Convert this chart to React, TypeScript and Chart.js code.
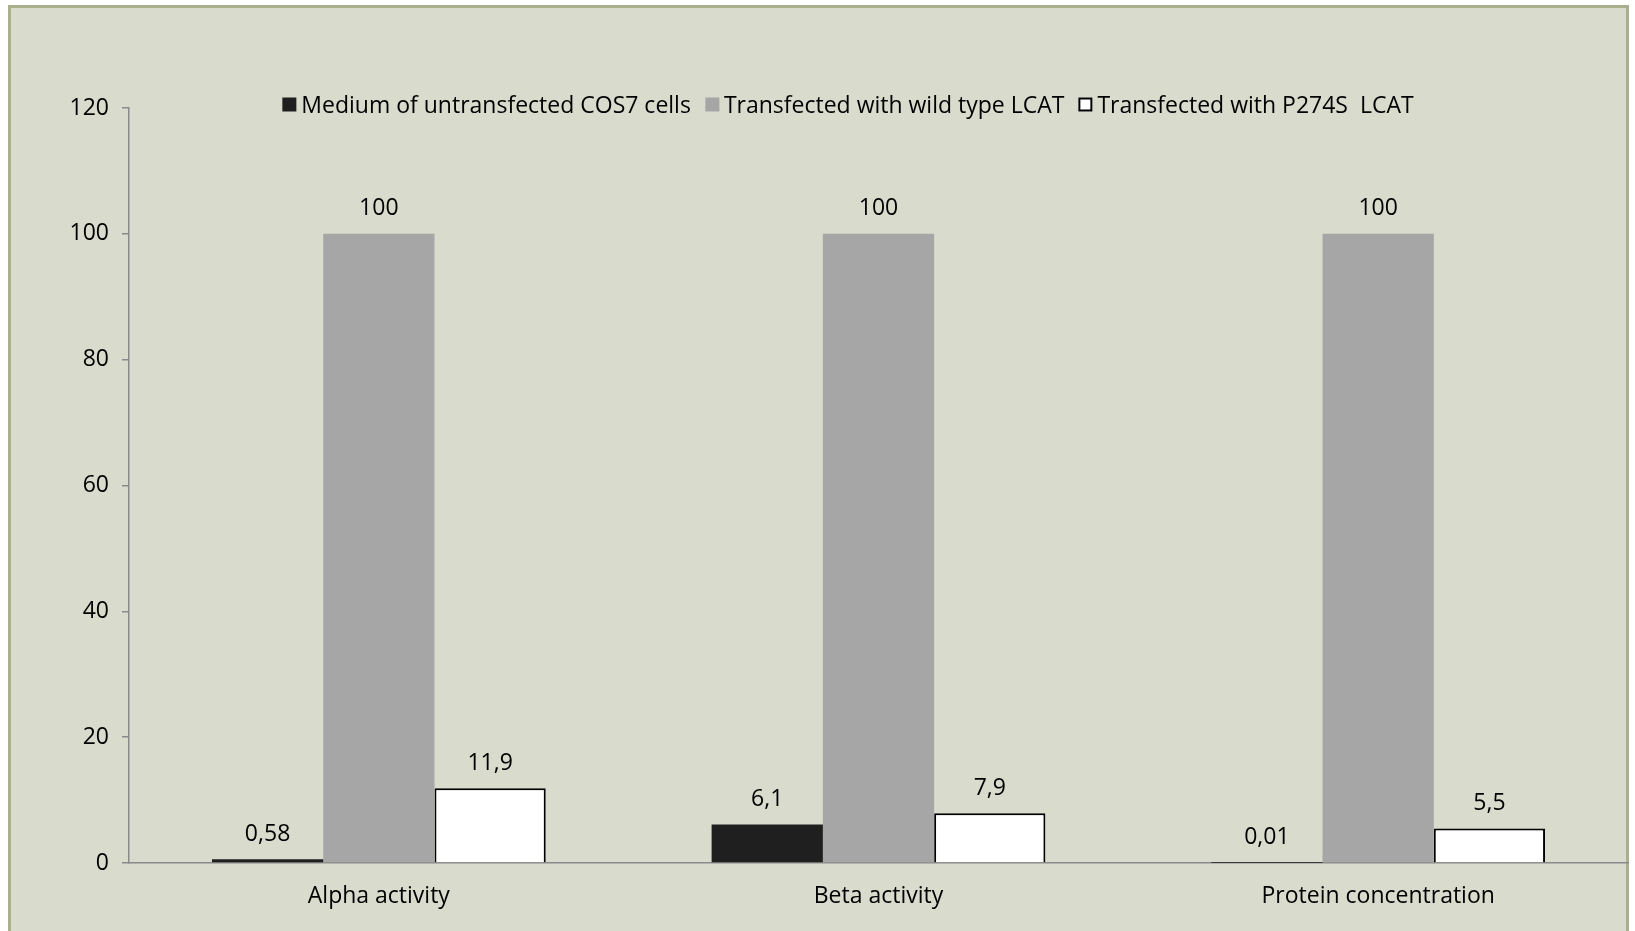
import React, { useEffect, useRef } from "react";
import { Chart, registerables } from "chart.js";

Chart.register(...registerables);

const categories = ["Alpha activity", "Beta activity", "Protein concentration"];
const seriesNames = [
  "Medium of untransfected COS7 cells",
  "Transfected with wild type LCAT",
  "Transfected with P274S  LCAT",
];
const untransfected = [0.58, 6.1, 0.01];
const wildType = [100, 100, 100];
const p274s = [11.9, 7.9, 5.5];
const yTicks = [0, 20, 40, 60, 80, 100, 120];

const seriesFill = ["#1f1f1f", "#a6a6a6", "#ffffff"];
const seriesBorder = ["#1f1f1f", "#a6a6a6", "#000000"];
const seriesBorderWidth = [0, 0, 2];

const FONT_FAMILY = "'Open Sans', sans-serif";
const FONT_SIZE = 23;

const valueLabels = {
  id: "valueLabels",
  afterDatasetsDraw(chart: any) {
    const ctx = chart.ctx;
    ctx.save();
    ctx.font = `${FONT_SIZE}px ${FONT_FAMILY}`;
    ctx.fillStyle = "#000";
    ctx.textAlign = "center";
    ctx.textBaseline = "middle";
    chart.data.datasets.forEach((ds: any, i: number) => {
      const meta = chart.getDatasetMeta(i);
      meta.data.forEach((el: any, j: number) => {
        const v = ds.data[j];
        ctx.fillText(String(v).replace(".", ","), el.x, el.y - 25);
      });
    });
    ctx.restore();
  },
};

export default function App() {
  const canvasRef = useRef<HTMLCanvasElement | null>(null);

  useEffect(() => {
    if (!canvasRef.current) return;
    const font = { family: FONT_FAMILY, size: FONT_SIZE };
    const seriesData = [untransfected, wildType, p274s];
    const chart = new Chart(canvasRef.current, {
      type: "bar",
      data: {
        labels: categories,
        datasets: seriesNames.map((name, i) => ({
          label: name,
          data: seriesData[i],
          backgroundColor: seriesFill[i],
          borderColor: seriesBorder[i],
          borderWidth: seriesBorderWidth[i],
          categoryPercentage: 0.668,
          barPercentage: 1,
        })),
      },
      options: {
        responsive: false,
        animation: false,
        layout: { padding: { left: 0, right: 7, top: 108, bottom: 0 } },
        plugins: {
          legend: { display: false },
          tooltip: { enabled: false },
        },
        scales: {
          x: {
            grid: { display: false },
            border: { display: true, color: "#8a8a8a", width: 1.5 },
            ticks: { color: "#000", font, padding: 12 },
            afterFit: (s: any) => {
              s.height = 68;
            },
          },
          y: {
            min: 0,
            max: 120,
            afterBuildTicks: (s: any) => {
              s.ticks = yTicks.map((v) => ({ value: v }));
            },
            ticks: { color: "#000", font, padding: 13 },
            grid: {
              drawOnChartArea: false,
              color: "#8a8a8a",
              tickLength: 7,
              lineWidth: 1.5,
            },
            border: { color: "#8a8a8a", width: 1.5 },
            afterFit: (s: any) => {
              s.width = 129;
            },
          },
        },
      },
      plugins: [valueLabels],
    } as any);
    return () => chart.destroy();
  }, []);

  return (
    <div
      style={{
        position: "absolute",
        left: 0,
        top: 0,
        width: 1635,
        height: 931,
        overflow: "hidden",
        background: "#ffffff",
        fontFamily: FONT_FAMILY,
      }}
    >
      <div
        style={{
          position: "absolute",
          left: 8,
          top: 5,
          width: 1615,
          height: 950,
          background: "#d9dbcd",
          border: "3px solid #a9b08e",
        }}
      />
      <canvas
        ref={canvasRef}
        width={1635}
        height={931}
        style={{ position: "absolute", left: 0, top: 0, width: 1635, height: 931 }}
      />
      <div
        style={{
          position: "absolute",
          left: 848,
          top: 104,
          transform: "translate(-50%, -50%)",
          display: "flex",
          alignItems: "center",
          whiteSpace: "pre",
          fontSize: FONT_SIZE,
          color: "#000",
          lineHeight: 1,
        }}
      >
        {seriesNames.map((name, i) => (
          <div key={name} style={{ display: "flex", alignItems: "center", marginLeft: i === 0 ? 0 : 14 }}>
            <span
              style={{
                display: "inline-block",
                width: 14,
                height: 14,
                boxSizing: "border-box",
                background: seriesFill[i],
                border: seriesBorderWidth[i] ? "2px solid #000" : "none",
                marginRight: 5,
              }}
            />
            <span>{name}</span>
          </div>
        ))}
      </div>
    </div>
  );
}
